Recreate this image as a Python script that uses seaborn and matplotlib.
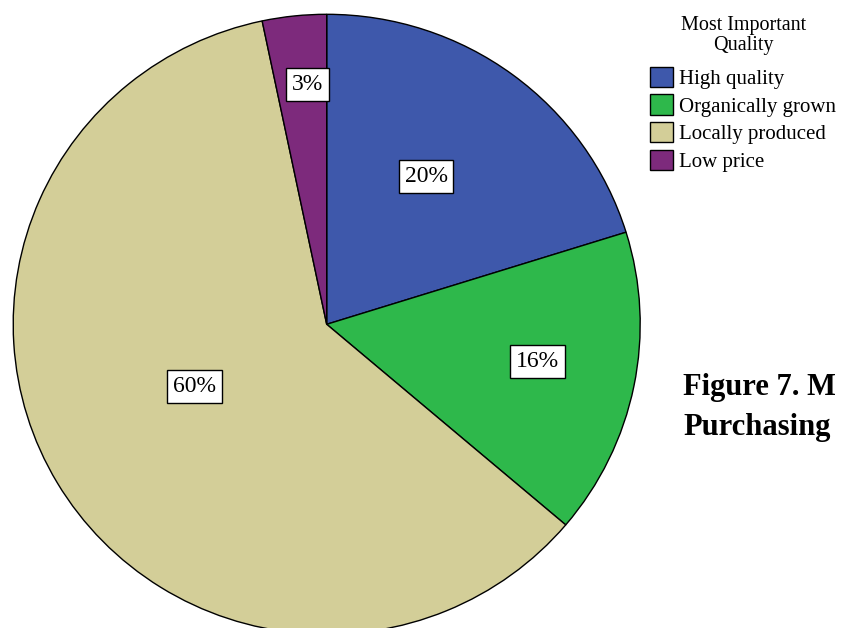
import matplotlib
matplotlib.use("Agg")
import matplotlib.pyplot as plt
import seaborn as sns
import numpy as np

# ---- data ----
categories = ["High quality", "Organically grown", "Locally produced", "Low price"]
shares = [20.2, 16.0, 60.5, 3.3]
pct_labels = ["20%", "16%", "60%", "3%"]
legend_title = "Most Important\nQuality"
caption_lines = ["Figure 7. M", "Purchasing"]

# ---- style ----
sns.set_theme(style="white")
plt.rcParams["font.family"] = ["Liberation Serif", "DejaVu Serif"]
plt.rcParams["text.color"] = "black"
colors = sns.color_palette(["#3E58AB", "#2EB84B", "#D3CE98", "#7D2A7C"])

W, H = 842, 628
sy = 313.5 / 310.0  # slight vertical squeeze of the pie as in the reference
fig = plt.figure(figsize=(W / 100, H / 100), dpi=100)
ax = fig.add_axes([0, 0, 1, 1])

center = (326.7, 303.7 * sy)
radius = 313.5
wedges, _ = ax.pie(shares, colors=colors, startangle=90, counterclock=False,
                   center=center, radius=radius,
                   wedgeprops=dict(edgecolor="black", linewidth=1.0))
ax.set_xlim(0, W)
ax.set_ylim(0, H * sy)
ax.set_aspect("auto")
ax.axis("off")

# label placement (radial fraction, angular offset in degrees)
label_layout = [(0.572, 2.7), (0.683, 1.5), (0.466, -5.3), (0.776, -1.5)]
for w, txt, (rf, dth) in zip(wedges, pct_labels, label_layout):
    mid = np.deg2rad((w.theta1 + w.theta2) / 2 + dth)
    x = center[0] + rf * radius * np.cos(mid)
    y = center[1] + rf * radius * np.sin(mid)
    ax.text(x, y, txt, ha="center", va="center", fontsize=17, color="black",
            bbox=dict(boxstyle="square,pad=0.25", fc="white", ec="black", lw=1.0))

leg = ax.legend(wedges, categories, title=legend_title,
                loc="upper left", bbox_to_anchor=(650 / W, 1 - 16 / H),
                bbox_transform=fig.transFigure, frameon=False,
                fontsize=15, title_fontsize=14.5, borderpad=0, borderaxespad=0,
                handlelength=1.1, handleheight=1.12, handletextpad=0.3,
                labelspacing=0.27, alignment="center")
leg.get_title().set_linespacing(1.1)
leg.get_title().set_multialignment("center")
leg._legend_box.sep = 8
for p in leg.get_patches():
    p.set_edgecolor("black")
    p.set_linewidth(1.0)
for t in leg.get_texts():
    t.set_color("black")

fig.text(683 / W, 1 - 388 / H, caption_lines[0], fontsize=22, fontweight="bold",
         ha="left", va="center", color="black")
fig.text(683 / W, 1 - 427 / H, caption_lines[1], fontsize=22, fontweight="bold",
         ha="left", va="center", color="black")

fig.savefig("out.png", dpi=100)
